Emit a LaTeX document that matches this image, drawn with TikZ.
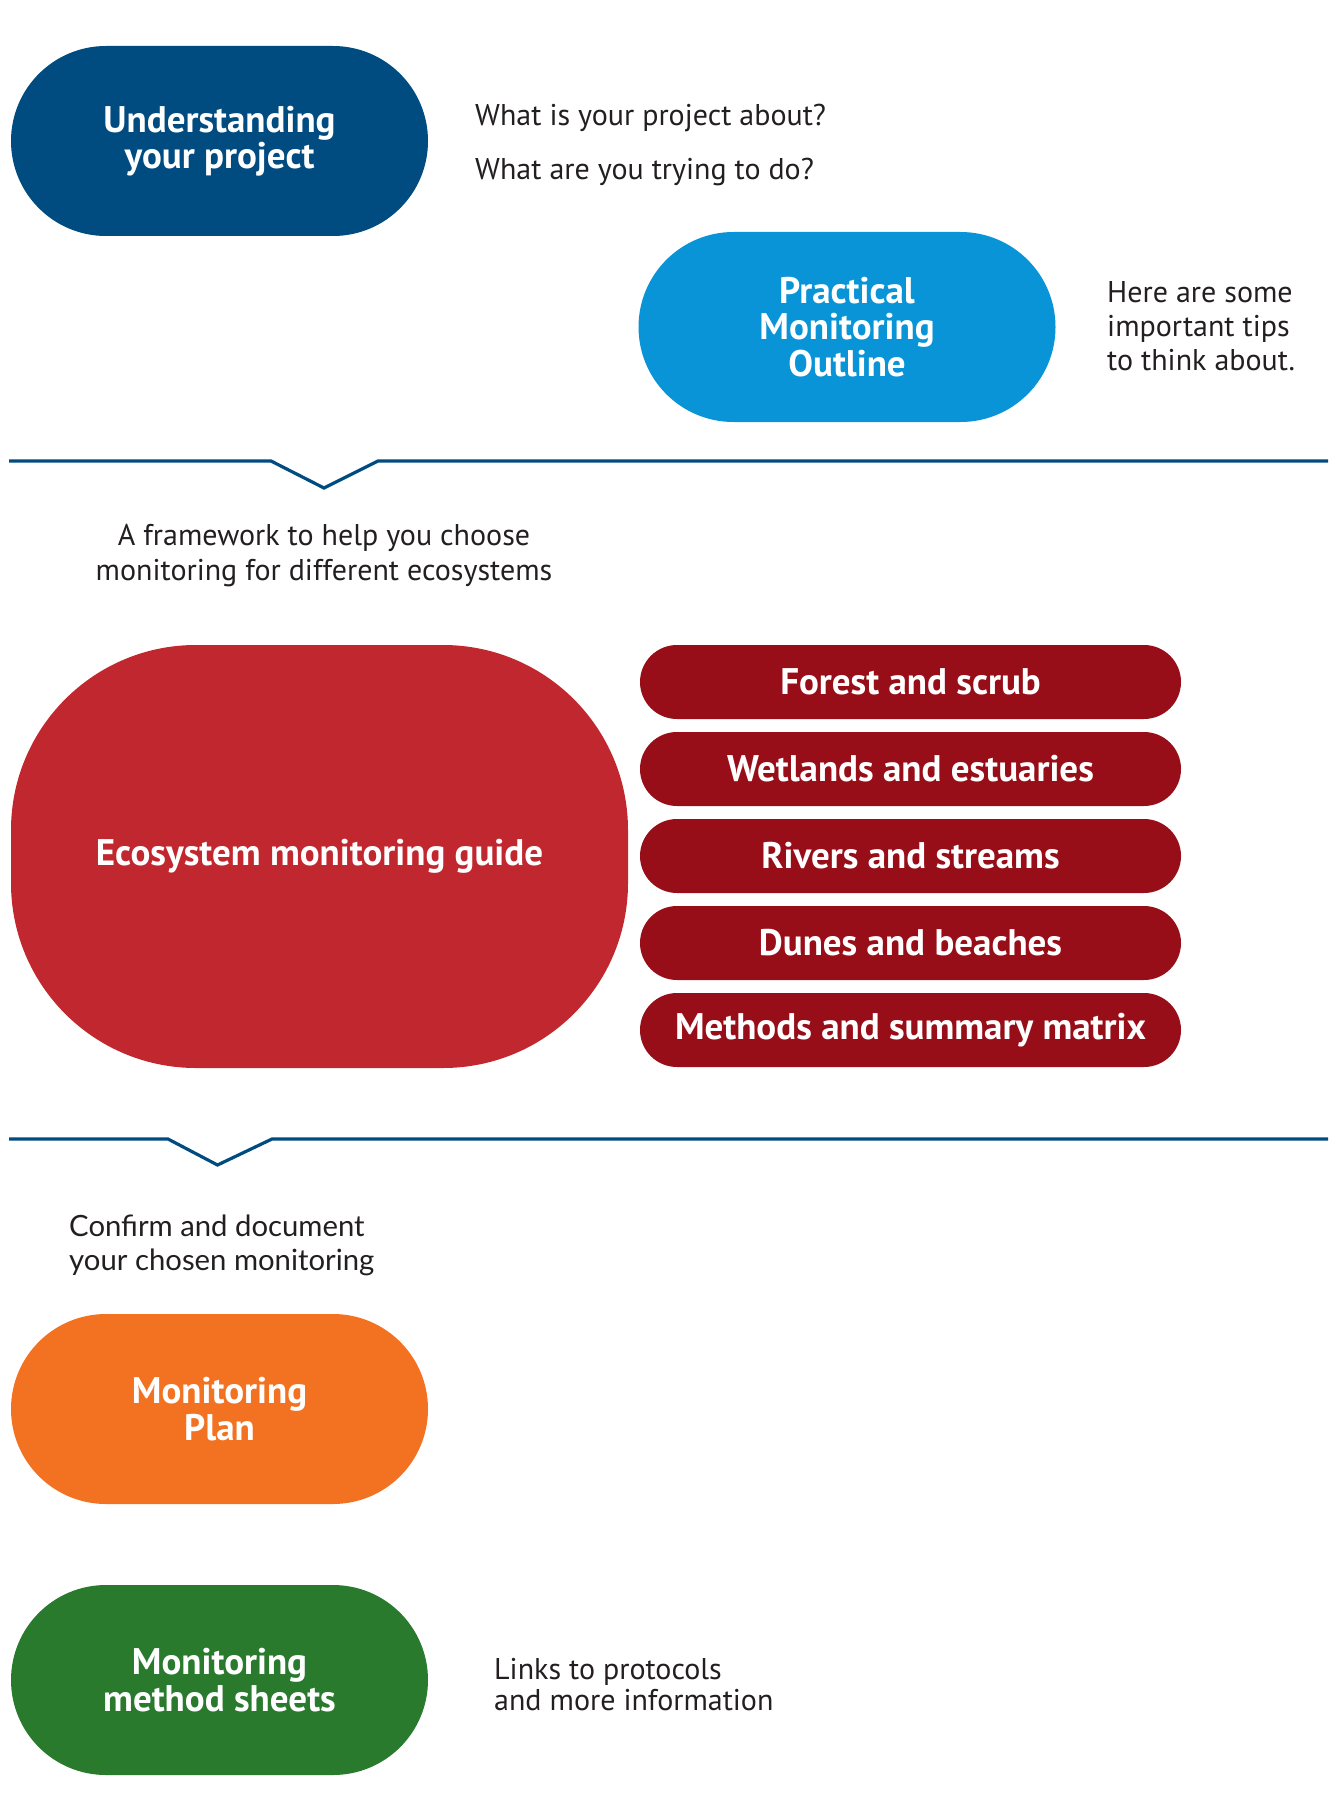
\documentclass[tikz,border=0pt]{standalone}
\usepackage{fontspec}
\setmainfont{PT Sans}
\newfontfamily\labelfont{PT Sans}
\newfontfamily\widefont{Lato}
\definecolor{navy}{RGB}{0,75,128}
\definecolor{skyblue}{RGB}{8,148,214}
\definecolor{guidered}{RGB}{193,39,46}
\definecolor{barred}{RGB}{152,14,24}
\definecolor{planorange}{RGB}{242,114,34}
\definecolor{sheetgreen}{RGB}{42,122,46}
\definecolor{bodytext}{RGB}{35,31,32}
\tikzset{
  x=1pt, y=1pt,
  pill/.style={rectangle, inner sep=0pt, align=center, text=white,
    font=\labelfont\bfseries\fontsize{37}{36.6}\selectfont},
  bigpill/.style={pill, minimum width=417pt, minimum height=190pt, rounded corners=95pt},
  bar/.style={pill, fill=barred, minimum width=541pt, minimum height=74pt, rounded corners=37pt},
  note/.style={inner sep=0pt, text=bodytext, align=left, anchor=west,
    font=\fontsize{30}{33.8}\selectfont},
  divider/.style={draw=navy, line width=3.2pt, line join=miter}
}
\begin{document}
\begin{tikzpicture}
\useasboundingbox (0,0) rectangle (1328,-1795);

% stage 1: project and outline
\node[bigpill, fill=navy] (understand) at (219.5,-141) {Understanding\\your project};
\node[note] (about) at (475,-118.5) {What is your project about?};
\node[note] (trying) at (475,-172.5) {What are you trying to do?};

\node[bigpill, fill=skyblue] (outline) at (847,-327) {Practical\\Monitoring\\Outline};
\node[note] (tips) at (1107,-326) {Here are some\\important tips\\to think about.};

% first divider with chevron
\coordinate (d1a) at (9,-461);
\coordinate (d1b) at (271,-461);
\coordinate (d1c) at (324,-488);
\coordinate (d1d) at (378,-461);
\coordinate (d1e) at (1328,-461);
\draw[divider] (d1a) -- (d1b) -- (d1c) -- (d1d) -- (d1e);

\node[note, anchor=center, align=center, font=\fontsize{30}{34.3}\selectfont]
  (framework) at (324,-555.5)
  {A framework to help you choose\\monitoring for different ecosystems};

% stage 2: ecosystem guide and its sections
\node[pill, fill=guidered, minimum width=617pt, minimum height=423pt,
  rounded corners=185pt] (guide) at (319.5,-856.5) {Ecosystem monitoring guide};

\node[bar] (forest) at (910.5,-682) {Forest and scrub};
\node[bar] (wetlands) at (910.5,-769) {Wetlands and estuaries};
\node[bar] (rivers) at (910.5,-856) {Rivers and streams};
\node[bar] (dunes) at (910.5,-943) {Dunes and beaches};
\node[bar] (methods) at (910.5,-1030) {Methods and summary matrix};

% second divider with chevron
\coordinate (d2a) at (9,-1139);
\coordinate (d2b) at (168,-1139);
\coordinate (d2c) at (217.5,-1165);
\coordinate (d2d) at (272,-1139);
\coordinate (d2e) at (1328,-1139);
\draw[divider] (d2a) -- (d2b) -- (d2c) -- (d2d) -- (d2e);

\node[note, font=\widefont\fontsize{29.3}{34}\selectfont] (confirm) at (69,-1245)
  {Confirm and document\\your chosen monitoring};

% stage 3: plan and method sheets
\node[bigpill, fill=planorange] (plan) at (219.5,-1409) {Monitoring\\Plan};
\node[bigpill, fill=sheetgreen] (sheets) at (219.5,-1680) {Monitoring\\method sheets};
\node[note, font=\fontsize{30}{31}\selectfont] (links) at (494,-1685)
  {Links to protocols\\and more information};
\end{tikzpicture}
\end{document}
